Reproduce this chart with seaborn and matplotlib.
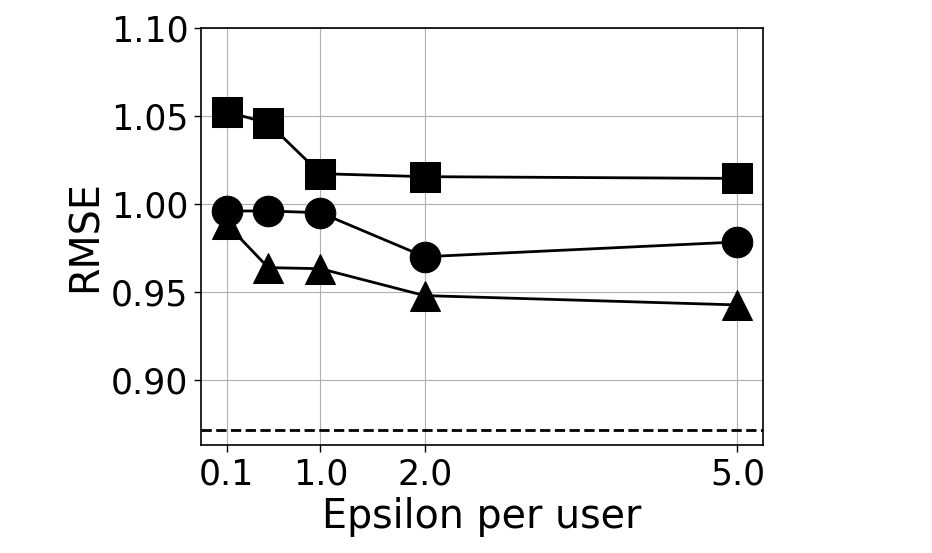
import pandas as pd
import matplotlib
matplotlib.use("Agg")
import matplotlib.pyplot as plt
import seaborn as sns

# values
epsilon = [0.1, 0.5, 1.0, 2.0, 5.0]
rmse_square = [1.0524, 1.0459, 1.0172, 1.0155, 1.0145]
rmse_circle = [0.9960, 0.9960, 0.9950, 0.9700, 0.9784]
rmse_triangle = [0.9886, 0.9638, 0.9632, 0.9479, 0.9426]
baseline = 0.8714
xticks = [0.1, 1.0, 2.0, 5.0]
xtick_labels = ["0.1", "1.0", "2.0", "5.0"]

sns.set_style("whitegrid")
plt.rcParams["font.family"] = ["DejaVu Sans"]
plt.rcParams["text.color"] = "black"
plt.rcParams["axes.labelcolor"] = "black"
plt.rcParams["xtick.color"] = "black"
plt.rcParams["ytick.color"] = "black"

fig = plt.figure(figsize=(9.32, 5.53), dpi=100)
ax = fig.add_axes([0.2157, 0.1953, 0.6030, 0.7541])

for vals, mk in [(rmse_square, "s"), (rmse_circle, "o"), (rmse_triangle, "^")]:
    df = pd.DataFrame({"eps": epsilon, "rmse": vals})
    sns.lineplot(data=df, x="eps", y="rmse", ax=ax, color="black", marker=mk,
                 markersize=22, markeredgecolor="black", linewidth=2)

ax.axhline(baseline, color="black", linestyle="--", linewidth=2)

ax.set_xlim(-0.145, 5.245)
ax.set_ylim(0.863, 1.10)
ax.set_xticks(xticks)
ax.set_xticklabels(xtick_labels)
ax.set_yticks([0.90, 0.95, 1.00, 1.05, 1.10])
ax.set_yticklabels(["0.90", "0.95", "1.00", "1.05", "1.10"])
ax.tick_params(axis="both", labelsize=25, length=5, width=1, colors="black",
               left=True, bottom=True, pad=4)
ax.set_xlabel("Epsilon per user", fontsize=28.5, labelpad=4)
ax.set_ylabel("RMSE", fontsize=28.5, labelpad=4)
ax.grid(True, color="#b0b0b0", linewidth=0.8)
for s in ax.spines.values():
    s.set_color("black")
    s.set_linewidth(1.2)

fig.savefig("out.png", dpi=100)
